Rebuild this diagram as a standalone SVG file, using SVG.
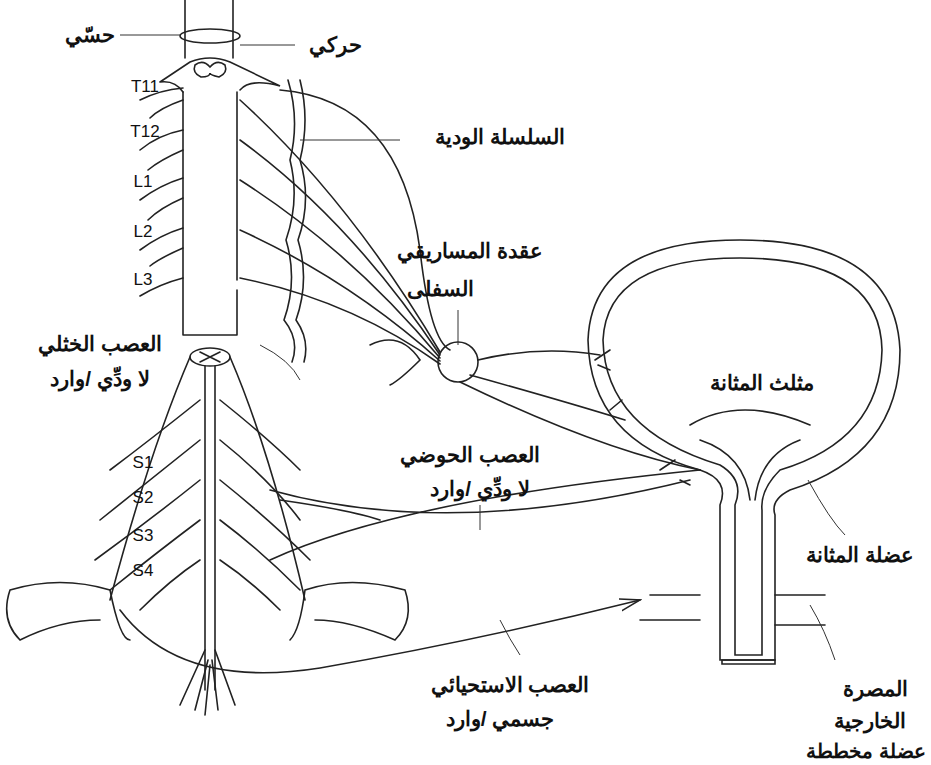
<svg xmlns="http://www.w3.org/2000/svg" width="931" height="765" viewBox="0 0 931 765">
<style>
.l{fill:none;stroke:#222;stroke-width:1.6;stroke-linecap:round}
.t{font-family:"Liberation Sans","Noto Sans",sans-serif;font-size:21px;font-weight:bold;fill:#111;text-anchor:middle}
.s{font-family:"Liberation Sans",sans-serif;font-size:17px;fill:#111;text-anchor:middle}
.d{fill:none;stroke:#333;stroke-width:1}
</style>
<defs><marker id="ar" markerWidth="22" markerHeight="14" refX="20" refY="7" orient="auto" markerUnits="userSpaceOnUse"><path d="M0,1 L20,7 L0,13" class="l"/></marker></defs>
<rect width="931" height="765" fill="#fff"/>
<g id="spine-upper">
<path class="l" d="M185,0V58M233,0V58"/>
<ellipse class="l" cx="210" cy="36" rx="30" ry="7"/>
<path class="l" d="M160,82 L190,62 Q210,54 230,62 L280,86 Q250,78 240,90 M160,82 Q175,80 183,92"/>
<path class="l" d="M195,65 q8,-6 15,2 q7,-8 15,-2 q3,8 -6,12 q-9,-2 -9,-4 q0,4 -9,4 q-9,-4 -6,-12z"/>
<path class="l" d="M183,92V335M237,92V280M237,290V335M183,335H237"/>
<path class="l" d="M183,88 Q160,90 140,100 M183,130 Q158,135 140,150 M183,178 Q160,185 140,200 M183,228 Q160,235 140,250 M183,278 Q160,284 140,296"/>
<path class="l" d="M183,100 Q160,108 150,118 M183,150 Q160,160 148,170 M183,198 Q160,208 148,220 M183,248 Q160,258 150,266"/>
</g>
<g id="sympathetic-chain">
<path class="l" d="M288,80 Q300,120 290,160 Q300,200 286,240 Q298,280 284,320 Q300,340 292,362"/>
<path class="l" d="M300,80 Q310,120 300,160 Q312,200 298,240 Q310,280 296,320 Q310,340 304,362"/>
</g>
<g id="spine-lower">
<ellipse class="l" cx="210" cy="357" rx="20" ry="9"/>
<path class="l" d="M200,352 l20,10 M200,362 l20,-10"/>
<path class="l" d="M190,357 Q150,450 110,600 M230,357 Q270,450 305,600"/>
<path class="l" d="M205,366 V690 M215,366 V690"/>
<path class="l" d="M205,650 L180,705 M208,660 L195,710 M212,660 L218,710 M215,650 L235,705 M210,665 L205,715"/>
<path class="l" d="M200,400 Q150,440 110,470 M200,440 Q150,480 100,520 M200,480 Q150,520 95,560 M200,520 Q160,550 110,590 M200,560 Q170,580 140,610"/>
<path class="l" d="M220,400 Q270,440 300,470 M220,440 Q270,480 300,520 M220,480 Q270,520 310,560 M220,520 Q260,550 300,590 M220,560 Q250,580 280,610"/>
<path class="l" d="M10,590 Q60,575 110,590 Q120,640 130,640 M10,590 Q0,620 20,640 Q60,620 100,620"/>
<path class="l" d="M405,590 Q350,575 305,590 Q300,630 290,640 M405,590 Q415,620 395,640 Q350,620 315,620"/>
</g>
<g id="bladder">
<path class="l" d="M720,505 Q730,480 700,470 Q590,440 588,340 Q592,240 740,240 Q895,240 900,350 Q900,455 790,490 Q770,500 775,515 L775,660 L720,660Z"/>
<path class="l" d="M735,505 Q745,480 720,465 Q605,430 603,340 Q607,258 740,258 Q880,258 882,350 Q880,440 780,470 Q760,490 762,510 L762,655 L735,655Z"/>
<path class="l" d="M690,425 Q740,395 810,425 M700,440 Q745,455 750,500 M800,440 Q760,455 755,500"/>
<path class="l" d="M722,660 H775 V664 H722Z"/>
</g>
<g id="nerves">
<path class="l" d="M240,100 Q350,200 440,352 M240,140 Q350,220 440,355 M240,180 Q350,250 440,358 M240,230 Q350,280 440,361 M240,278 Q350,300 440,364 M280,90 Q400,100 420,250 Q430,340 450,350"/>
<circle class="l" cx="458" cy="362" r="20"/>
<path class="l" d="M478,360 Q540,345 600,355 M470,375 Q560,400 625,420 M460,382 Q600,450 700,470"/>
<path class="l" d="M370,345 Q400,330 420,360 Q400,380 390,385"/>
<path class="l" d="M270,490 Q450,540 690,480 M270,560 Q400,500 700,470 M280,500 Q350,510 380,520"/>
<path class="l" d="M595,360 l15,-10 M598,365 l12,5 M610,410 l12,-10 M660,470 l15,-10 M680,480 l10,5"/>
<path class="l" d="M120,610 Q180,690 320,668 Q480,640 640,600" marker-end="url(#ar)"/>
<path class="l" d="M650,595 H700 M640,620 H700 M775,595 H825 M775,625 H825"/>
</g>
<g id="leaders">
<path class="d" d="M120,35 H180 M240,45 H295 M300,140 H400 M458,345 V310 M260,345 Q290,360 300,380 M480,530 V505 M808,480 Q830,520 845,535 M810,605 Q825,630 835,660 M500,620 Q510,640 520,655"/>
</g>
<g id="labels">
<text class="t" x="90" y="42">حسّي</text>
<text class="t" x="335" y="52">حركي</text>
<text class="s" x="145" y="92">T11</text>
<text class="s" x="145" y="137">T12</text>
<text class="s" x="143" y="187">L1</text>
<text class="s" x="143" y="237">L2</text>
<text class="s" x="143" y="285">L3</text>
<text class="t" x="500" y="144">السلسلة الودية</text>
<text class="t" x="470" y="258">عقدة المساريقي</text>
<text class="t" x="440" y="296">السفلى</text>
<text class="t" x="100" y="351">العصب الخثلي</text>
<text class="t" x="100" y="386">لا ودِّي /وارد</text>
<text class="t" x="762" y="390">مثلث المثانة</text>
<text class="t" x="470" y="462">العصب الحوضي</text>
<text class="t" x="480" y="496">لا ودِّي /وارد</text>
<text class="s" x="143" y="468">S1</text>
<text class="s" x="143" y="503">S2</text>
<text class="s" x="143" y="541">S3</text>
<text class="s" x="143" y="576">S4</text>
<text class="t" x="860" y="562">عضلة المثانة</text>
<text class="t" x="510" y="692">العصب الاستحيائي</text>
<text class="t" x="500" y="726">جسمي /وارد</text>
<text class="t" x="875" y="696">المصرة</text>
<text class="t" x="870" y="728">الخارجية</text>
<text class="t" x="926" y="758" style="text-anchor:end;font-size:20px">عضلة مخططة</text>
</g>
</svg>
